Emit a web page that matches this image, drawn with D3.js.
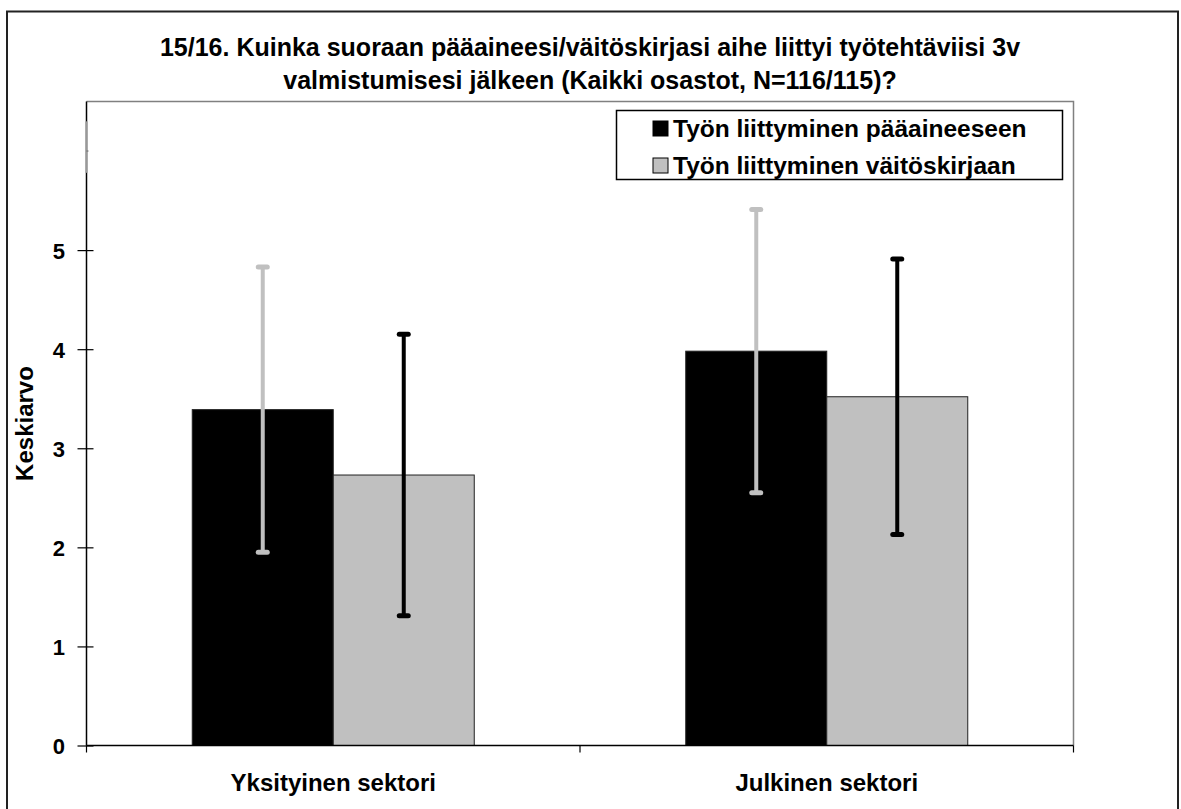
<!DOCTYPE html>
<html><head><meta charset="utf-8">
<script src="https://cdn.jsdelivr.net/npm/d3@7"></script>
<style>
body{margin:0;background:#fff;}
text{font-family:"Liberation Sans",Arial,sans-serif;font-weight:bold;fill:#000;}
</style></head>
<body>
<svg id="chart" width="1181" height="809"></svg>
<script>
const categories = ["Yksityinen sektori", "Julkinen sektori"];
const seriesNames = ["Työn liittyminen pääaineeseen", "Työn liittyminen väitöskirjaan"];
const meanPaaaine = [3.39, 3.98];
const sdPaaaine = [1.44, 1.43];
const meanVaitos = [2.73, 3.52];
const sdVaitos = [1.42, 1.39];
const yTicks = [0, 1, 2, 3, 4, 5];
const titleLines = ["15/16. Kuinka suoraan pääaineesi/väitöskirjasi aihe liittyi työtehtäviisi 3v",
                    "valmistumisesi jälkeen (Kaikki osastot, N=116/115)?"];
const yTitle = "Keskiarvo";

const barColors = ["#000000", "#c0c0c0"];
const errColors = ["#c0c0c0", "#000000"];

const svg = d3.select("#chart");
svg.append("rect").attr("width",1181).attr("height",809).attr("fill","#fff");
// outer frame
svg.append("path").attr("d","M7,830 V11.5 H1178 V830").attr("fill","none").attr("stroke","#222").attr("stroke-width",2);

const L = 86.5, R = 1073.5, T = 101.5, B = 745.5;
const y = d3.scaleLinear().domain([0, 6.5]).range([B, T]);
const x = d3.scaleBand().domain(categories).range([L, R]).padding(0);
const xi = d3.scaleBand().domain([0,1]).range([0, x.bandwidth()]).paddingInner(0).paddingOuter(0.75);

// plot frame (top/right gray)
svg.append("path").attr("d",`M${L},${T} H${R} V${B}`).attr("fill","none").attr("stroke","#808080").attr("stroke-width",1.5);

const rows = categories.map((c,i)=>({c, vals:[
  {s:0, m:meanPaaaine[i], e:sdPaaaine[i]},
  {s:1, m:meanVaitos[i], e:sdVaitos[i]}]}));

const g = svg.selectAll("g.cat").data(rows).join("g").attr("class","cat")
  .attr("transform", d=>`translate(${x(d.c)},0)`);
g.selectAll("rect").data(d=>d.vals).join("rect")
  .attr("x", d=>xi(d.s)).attr("width", xi.bandwidth())
  .attr("y", d=>y(d.m)).attr("height", d=>y(0)-y(d.m))
  .attr("fill", d=>barColors[d.s]).attr("stroke","#222").attr("stroke-width",1);

const eb = g.selectAll("g.err").data(d=>d.vals).join("g").attr("class","err")
  .attr("transform", d=>`translate(${xi(d.s)+xi.bandwidth()/2},0)`);
eb.append("line").attr("y1",d=>y(d.m+d.e)).attr("y2",d=>y(d.m-d.e))
  .attr("stroke",d=>errColors[d.s]).attr("stroke-width",4);
eb.selectAll("line.cap").data(d=>[{d, v:d.m+d.e},{d, v:d.m-d.e}]).join("line").attr("class","cap")
  .attr("x1",-4.5).attr("x2",4.5).attr("y1",k=>y(k.v)).attr("y2",k=>y(k.v))
  .attr("stroke",k=>errColors[k.d.s]).attr("stroke-width",5).attr("stroke-linecap","round");

// y axis
const ya = svg.append("g").attr("transform",`translate(${L},0)`)
  .call(d3.axisLeft(y).tickValues(yTicks).tickFormat(d3.format("d")).tickSizeInner(9).tickSizeOuter(0).tickPadding(12.5));
ya.select(".domain").attr("stroke","#000").attr("stroke-width",1.5).attr("d",`M0,${B}V${T}`);
ya.selectAll(".tick line").attr("x1",7).attr("stroke","#000").attr("stroke-width",1.2);
ya.selectAll(".tick text").attr("font-size",22).attr("font-family","Liberation Sans, Arial, sans-serif").attr("font-weight","bold").attr("dy","0.36em").attr("y",0);
// faint break segment near 6
ya.append("line").attr("x1",0).attr("x2",0).attr("y1",y(6.3)).attr("y2",y(5.78)).attr("stroke","#999").attr("stroke-width",2);
ya.append("line").attr("x1",0).attr("x2",2).attr("y1",y(6)).attr("y2",y(6)).attr("stroke","#666").attr("stroke-width",1);

// x axis
const xa = svg.append("g").attr("transform",`translate(0,${B})`);
xa.append("line").attr("x1",L).attr("x2",R).attr("stroke","#000").attr("stroke-width",1.5);
const bounds = [L, x(categories[1]), R];
xa.selectAll("line.t").data(bounds).join("line").attr("class","t")
  .attr("x1",d=>d).attr("x2",d=>d).attr("y1",0).attr("y2",7).attr("stroke","#000").attr("stroke-width",1.2);
xa.selectAll("text").data(categories).join("text")
  .attr("x",d=>x(d)+x.bandwidth()/2).attr("y",45).attr("text-anchor","middle").attr("font-size",24).text(d=>d);

// y title
svg.append("text").attr("transform",`translate(33,${(T+B)/2}) rotate(-90)`).attr("text-anchor","middle")
  .attr("font-size",24).text(yTitle);

// title
svg.selectAll("text.title").data(titleLines).join("text").attr("class","title")
  .attr("x",590).attr("y",(d,i)=>56+i*33).attr("text-anchor","middle").attr("font-size",25).text(d=>d);

// legend
const lg = svg.append("g");
lg.append("rect").attr("x",616.5).attr("y",110.5).attr("width",446).attr("height",69)
  .attr("fill","#fff").attr("stroke","#000").attr("stroke-width",1.5);
const li = lg.selectAll("g.li").data(seriesNames).join("g").attr("class","li")
  .attr("transform",(d,i)=>`translate(653,${121+i*37})`);
li.append("rect").attr("width",15).attr("height",15).attr("fill",(d,i)=>barColors[i]).attr("stroke","#000").attr("stroke-width",1);
li.append("text").attr("x",20).attr("y",16).attr("font-size",24.5).text(d=>d);
</script>
</body></html>
